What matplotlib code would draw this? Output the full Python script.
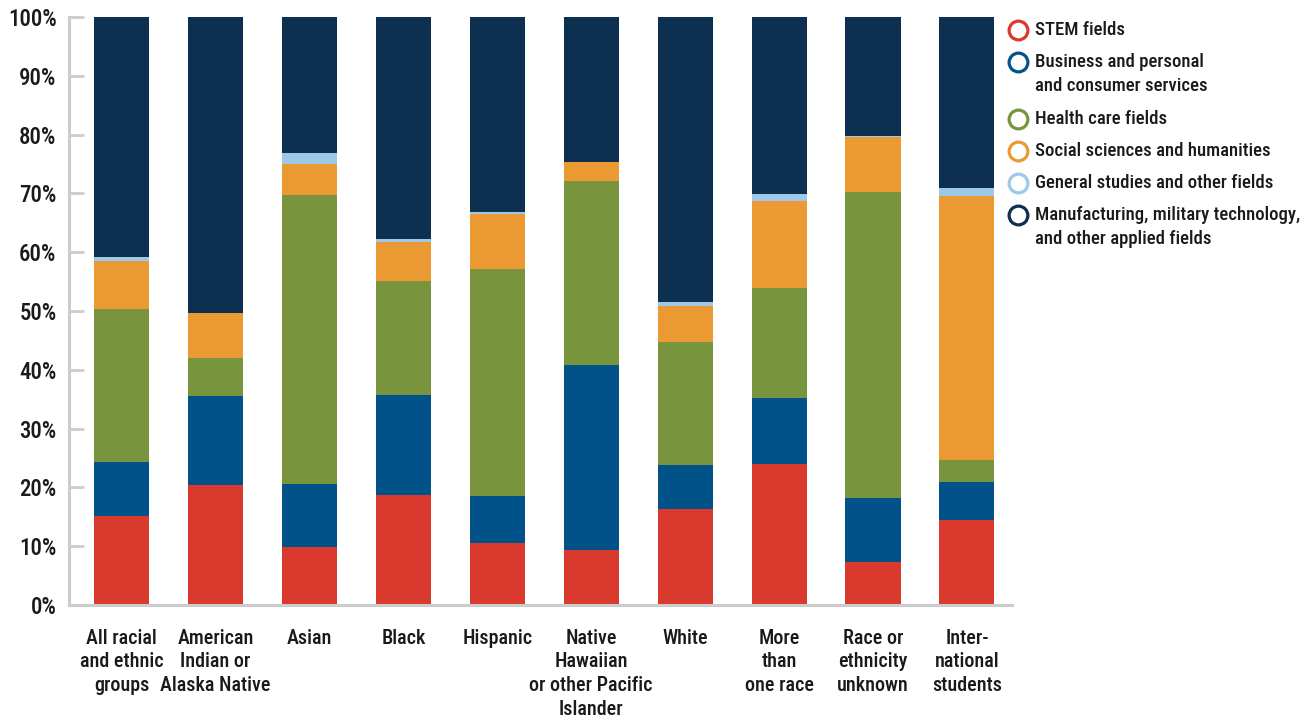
import numpy as np
import matplotlib.pyplot as plt
from matplotlib.lines import Line2D
from matplotlib import font_manager
from matplotlib.font_manager import FontProperties

# look for a narrow / condensed face among the installed fonts
def weight_num(w):
    if isinstance(w, int):
        return w
    return {'light': 300, 'normal': 400, 'regular': 400, 'book': 400, 'medium': 500,
            'semibold': 600, 'bold': 700}.get(str(w).lower(), 400)

cands = []
pref = ['roboto', 'opensans', 'noto', 'liberation', 'dejavu', 'lato', 'inter']
for f in font_manager.fontManager.ttflist:
    fn = f.fname.lower().split('/')[-1]
    if ('condensed' in fn or 'narrow' in fn) and 'extra' not in fn and 'italic' not in fn \
            and 'oblique' not in fn and f.style == 'normal':
        rank = next((i for i, p in enumerate(pref) if p in fn.replace(' ', '').replace('-', '')), 9)
        cands.append((rank, abs(weight_num(f.weight) - 480), f.fname))
cands.sort()
if cands:
    fp = FontProperties(fname=cands[0][2])
    scale = 1.0
else:
    fp = FontProperties(family='Liberation Sans')
    scale = 0.85

groups = ['All racial\nand ethnic\ngroups', 'American\nIndian or\nAlaska Native', 'Asian',
          'Black', 'Hispanic', 'Native\nHawaiian\nor other Pacific\nIslander', 'White',
          'More\nthan\none race', 'Race or\nethnicity\nunknown', 'Inter-\nnational\nstudents']

stem     = [15.1, 20.4, 9.9, 18.7, 10.5, 9.4, 16.3, 24.0, 7.3, 14.5]
business = [9.2, 15.1, 10.7, 17.0, 8.0, 31.4, 7.5, 11.2, 10.9, 6.4]
health   = [26.0, 6.5, 49.1, 19.4, 38.6, 31.3, 20.9, 18.7, 52.0, 3.8]
social   = [8.2, 7.7, 5.3, 6.6, 9.4, 3.2, 6.2, 14.8, 9.4, 44.9]
general  = [0.7, 0.0, 1.9, 0.5, 0.3, 0.0, 0.6, 1.2, 0.2, 1.3]
manuf    = [40.8, 50.3, 23.1, 37.8, 33.2, 25.0, 48.5, 30.1, 20.2, 29.1]

series = [stem, business, health, social, general, manuf]
labels = ['STEM fields', 'Business and personal\nand consumer services', 'Health care fields',
          'Social sciences and humanities', 'General studies and other fields',
          'Manufacturing, military technology,\nand other applied fields']
colors = ['#DA392E', '#02528A', '#78953D', '#EB9933', '#9DC8E8', '#0D2F50']

fig = plt.figure(figsize=(13, 7.19), dpi=100)
ax = fig.add_axes([69/1300, 1-605/719, (1012-69)/1300, (605-17)/719])

x = np.arange(len(groups))
bottom = np.zeros(len(groups))
for vals, c in zip(series, colors):
    ax.bar(x, vals, bottom=bottom, width=0.586, color=c, linewidth=0)
    bottom += np.array(vals)

ax.set_xlim(-0.56, 9.48)
ax.set_ylim(0, 100)
ax.set_yticks(range(0, 101, 10))
ax.set_yticklabels([f'{v}%' for v in range(0, 101, 10)], fontproperties=fp,
                   fontsize=16.5*scale, color='#1a1a1a')
ax.tick_params(axis='y', direction='in', length=11, width=2, color='#cccccc', pad=9)
ax.set_xticks(x)
ax.set_xticklabels(groups, fontproperties=fp, fontsize=14.5*scale, color='#1a1a1a',
                   linespacing=1.32)
ax.tick_params(axis='x', length=0, pad=17)

for s in ['top', 'right']:
    ax.spines[s].set_visible(False)
for s in ['left', 'bottom']:
    ax.spines[s].set_color('#cccccc')
    ax.spines[s].set_linewidth(2.2)

# legend, drawn by hand
y = 30
for lab, c in zip(labels, colors):
    fig.add_artist(Line2D([1018/1300], [1 - y/719], transform=fig.transFigure, marker='o',
                          markersize=13.5, markerfacecolor='white', markeredgecolor=c,
                          markeredgewidth=2.3, linestyle='none'))
    fig.text(1035/1300, 1 - (y - 9)/719, lab, fontproperties=fp, fontsize=13.5*scale,
             color='#1a1a1a', va='top', linespacing=1.42)
    y += 32 + 25*lab.count('\n')

fig.savefig('out.png', dpi=100)
